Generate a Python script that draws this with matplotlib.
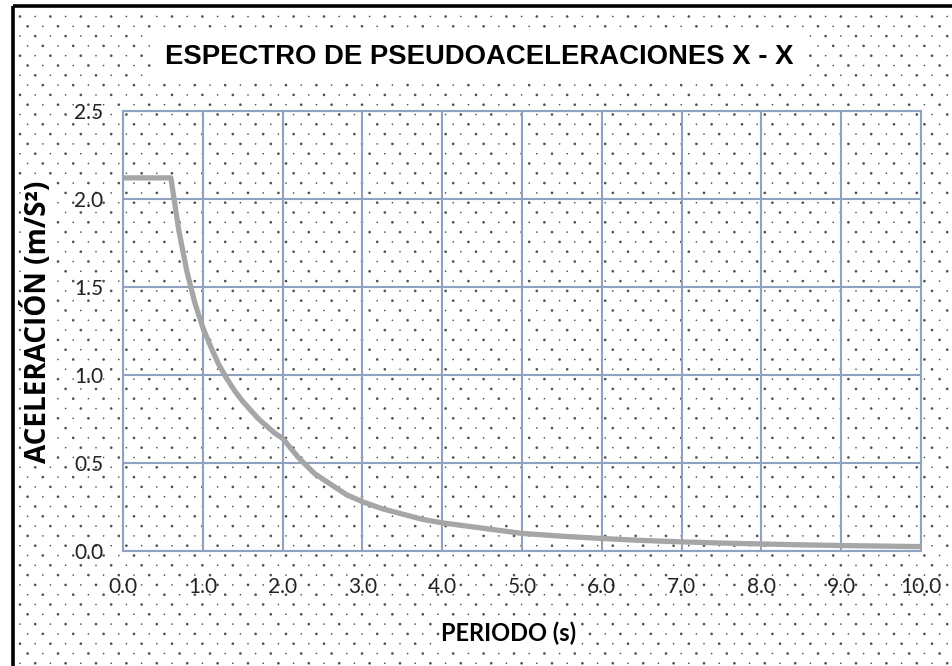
import matplotlib
matplotlib.use("Agg")
import matplotlib.pyplot as plt
import numpy as np

# Data
periodo = [0.0, 0.6, 0.7, 0.8, 0.9, 1.0, 1.1, 1.2, 1.3, 1.4, 1.5, 1.6, 1.7, 1.8, 1.9, 2.0,
           2.2, 2.4, 2.6, 2.8, 3.0, 3.25, 3.5, 3.75, 4.0, 4.5, 5.0, 5.5, 6.0, 6.5, 7.0,
           7.5, 8.0, 8.5, 9.0, 9.5, 10.0]
aceleracion = [2.12, 2.12, 1.82, 1.59, 1.41, 1.27, 1.16, 1.06, 0.98, 0.91, 0.85, 0.80, 0.75,
               0.71, 0.67, 0.64, 0.53, 0.44, 0.38, 0.32, 0.28, 0.24, 0.21, 0.18, 0.16, 0.13,
               0.10, 0.084, 0.071, 0.060, 0.052, 0.045, 0.040, 0.035, 0.031, 0.028, 0.025]
xticks = [0, 1, 2, 3, 4, 5, 6, 7, 8, 9, 10]
xtick_labels = ["0.0", "1.0", "2.0", "3.0", "4.0", "5.0", "6.0", "7.0", "8.0", "9.0", "10.0"]
yticks = [0.0, 0.5, 1.0, 1.5, 2.0, 2.5]
ytick_labels = ["0.0", "0.5", "1.0", "1.5", "2.0", "2.5"]
title = "ESPECTRO DE PSEUDOACELERACIONES X - X"
xlabel = "PERIODO (s)"
ylabel = "ACELERACIÓN (m/S²)"

W, H = 953, 666
fig = plt.figure(figsize=(W / 100, H / 100), dpi=100)
fig.patch.set_facecolor("white")

# Background dotted pattern (decoration)
bg = fig.add_axes([0, 0, 1, 1], zorder=0)
bg.set_xlim(0, W)
bg.set_ylim(H, 0)
bg.axis("off")
xs, ys, ss = [], [], []
row = 0
for yy in np.arange(16.5, H, 9.8):
    off = 0 if row % 2 == 0 else 7.6
    col = 0
    for xx in np.arange(20 + off, W, 15.2):
        xs.append(xx); ys.append(yy)
        ss.append(3.6 if (col + row // 2) % 2 == 0 else 1.4)
        col += 1
    row += 1
bg.scatter(xs, ys, s=ss, c="#505050", linewidths=0, zorder=0)
# frame lines
bg.plot([13, 13], [6, H], color="black", lw=2.6, solid_capstyle="butt")
bg.plot([13, W], [6, 6], color="black", lw=2.6, solid_capstyle="butt")

ax = fig.add_axes([123 / W, 1 - 551 / H, (921 - 123) / W, (551 - 111) / H], zorder=1)
ax.patch.set_alpha(0)
grid_color = "#8fa2c2"
ax.plot(periodo, aceleracion, color="#a6a6a6", lw=3.8, zorder=3, solid_joinstyle="round")
ax.set_xlim(0, 10)
ax.set_ylim(0, 2.5)
ax.set_xticks(xticks)
ax.set_xticklabels(xtick_labels)
ax.set_yticks(yticks)
ax.set_yticklabels(ytick_labels)
ax.grid(True, color=grid_color, lw=1.5, zorder=1)
for sp in ax.spines.values():
    sp.set_color(grid_color)
    sp.set_linewidth(1.5)
ax.tick_params(length=0, labelsize=15, colors="#222222")
ax.tick_params(axis="x", pad=19)
ax.tick_params(axis="y", pad=14)
for lab in ax.get_xticklabels() + ax.get_yticklabels():
    lab.set_family(["Lato", "DejaVu Sans"])

t = fig.text(479 / W, 1 - 57 / H, title, ha="center", va="center", fontsize=20,
             fontweight="bold", family=["Liberation Sans", "DejaVu Sans"],
             bbox=dict(facecolor="white", edgecolor="none", pad=8))
# fit title width to roughly the reference width
r = fig.canvas.get_renderer()
w = t.get_window_extent(renderer=r).width
t.set_fontsize(20 * 628 / w)

fig.text(509 / W, 1 - 633 / H, xlabel, ha="center", va="center", fontsize=17,
         fontweight="bold", family=["Lato", "DejaVu Sans"],
         bbox=dict(facecolor="white", edgecolor="none", pad=1))
fig.text(38 / W, 1 - 322 / H, ylabel, ha="center", va="center", fontsize=20,
         fontweight="bold", rotation=90, family=["Open Sans", "DejaVu Sans"],
         bbox=dict(facecolor="white", edgecolor="none", pad=1))

fig.savefig("out.png", dpi=100, facecolor="white")
